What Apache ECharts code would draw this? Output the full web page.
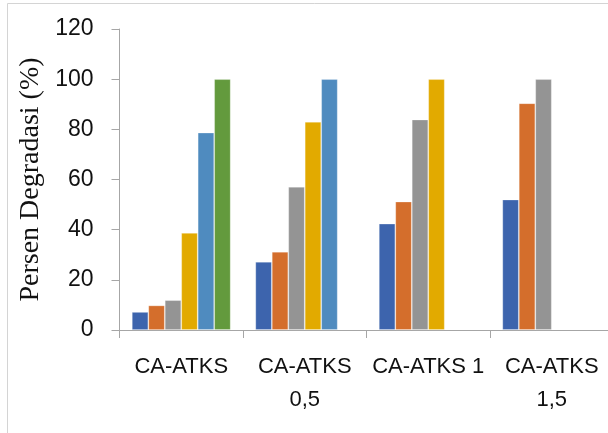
<!DOCTYPE html>
<html>
<head>
<meta charset="utf-8">
<script src="https://cdn.jsdelivr.net/npm/echarts@6/dist/echarts.min.js"></script>
<style>
  html, body { margin: 0; padding: 0; background: #fff; overflow: hidden; }
  #chart { width: 620px; height: 433px; }
</style>
</head>
<body>
<div id="chart"></div>
<script>
// Categories (samples) and degradation percentages per series
const categories = ['CA-ATKS', 'CA-ATKS\n0,5', 'CA-ATKS 1', 'CA-ATKS\n1,5'];
const seriesBlue = [7.2, 27.2, 42.4, 52.0];
const seriesOrange = [9.8, 31.2, 51.2, 90.4];
const seriesGray = [11.9, 57.1, 83.9, 100];
const seriesYellow = [38.7, 83.0, 100, null];
const seriesLightBlue = [78.7, 100, null, null];
const seriesGreen = [100, null, null, null];
const yTicks = { min: 0, max: 120, interval: 20 };

const palette = ['#3d64ad', '#d46e2c', '#949494', '#e2aa00', '#4f8bbf', '#639a3d'];
const allSeries = [seriesBlue, seriesOrange, seriesGray, seriesYellow, seriesLightBlue, seriesGreen];

const chart = echarts.init(document.getElementById('chart'), null, { renderer: 'canvas' });

const axisGray = '#a6a6a6';
const textColor = '#111';

chart.setOption({
  animation: false,
  backgroundColor: '#fff',
  graphic: [{
    type: 'rect',
    shape: { x: 7.5, y: 3.5, width: 700, height: 500 },
    style: { fill: 'none', stroke: '#d4d4d4', lineWidth: 1 },
    z: 0
  }],
  grid: { left: 119.5, top: 29, right: 6.5, bottom: 103 },
  xAxis: {
    type: 'category',
    data: categories,
    axisLine: { lineStyle: { color: axisGray, width: 1 } },
    axisTick: { show: true, length: 8, lineStyle: { color: axisGray } },
    axisLabel: {
      margin: 20, lineHeight: 33, interval: 0,
      fontFamily: 'Liberation Sans', fontSize: 22, color: textColor
    }
  },
  yAxis: {
    type: 'value',
    min: yTicks.min,
    max: yTicks.max,
    interval: yTicks.interval,
    name: 'Persen Degradasi (%)',
    nameLocation: 'middle',
    nameGap: 75,
    nameTextStyle: { fontFamily: 'Liberation Serif', fontSize: 28, color: textColor },
    axisLine: { show: true, lineStyle: { color: axisGray, width: 1 } },
    axisTick: { show: true, length: 8, lineStyle: { color: axisGray } },
    splitLine: { show: false },
    axisLabel: { margin: 26, fontFamily: 'Liberation Sans', fontSize: 23, color: textColor }
  },
  series: allSeries.map((vals, i) => ({
    type: 'bar',
    data: vals,
    barGap: '0%',
    barCategoryGap: '20%',
    itemStyle: { color: palette[i], borderColor: 'rgba(255,255,255,0.35)', borderWidth: 0.8 }
  }))
});
</script>
</body>
</html>
